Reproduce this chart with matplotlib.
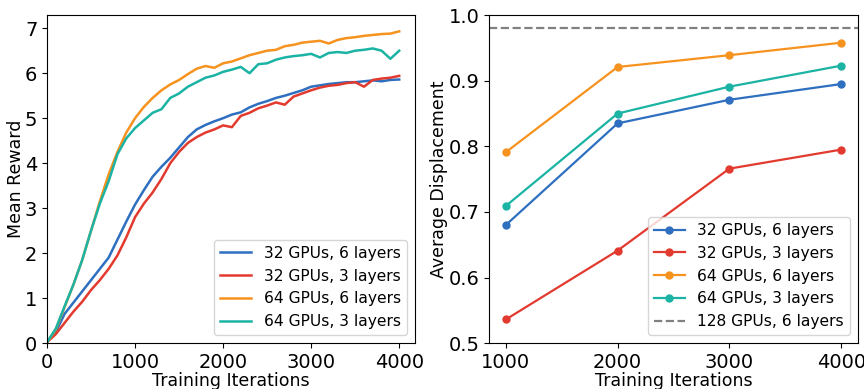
import matplotlib
matplotlib.use("Agg")
import matplotlib.pyplot as plt

# left panel: mean reward vs training iterations (read every 100 its)
iters = list(range(0, 4001, 100))
reward_32_6 = [0.02, 0.25, 0.65, 0.9, 1.15, 1.4, 1.65, 1.9, 2.3, 2.7,
               3.08, 3.4, 3.7, 3.92, 4.12, 4.35, 4.58, 4.75, 4.85, 4.93,
               5.0, 5.08, 5.13, 5.24, 5.32, 5.38, 5.45, 5.5, 5.56, 5.62,
               5.7, 5.73, 5.76, 5.78, 5.8, 5.8, 5.82, 5.84, 5.82, 5.85, 5.86]
reward_32_3 = [0.02, 0.2, 0.45, 0.7, 0.92, 1.18, 1.4, 1.65, 1.95, 2.35,
               2.8, 3.1, 3.35, 3.65, 4.0, 4.25, 4.45, 4.58, 4.68, 4.75,
               4.84, 4.8, 5.05, 5.12, 5.22, 5.28, 5.35, 5.3, 5.48, 5.55,
               5.62, 5.68, 5.72, 5.74, 5.78, 5.8, 5.7, 5.85, 5.88, 5.9, 5.94]
reward_64_6 = [0.02, 0.3, 0.8, 1.3, 1.85, 2.5, 3.15, 3.75, 4.25, 4.68,
               5.0, 5.25, 5.45, 5.62, 5.75, 5.85, 5.98, 6.1, 6.16, 6.12,
               6.22, 6.26, 6.33, 6.4, 6.45, 6.5, 6.52, 6.6, 6.63, 6.68,
               6.7, 6.72, 6.66, 6.74, 6.78, 6.8, 6.83, 6.85, 6.87, 6.88, 6.93]
reward_64_3 = [0.02, 0.32, 0.82, 1.3, 1.85, 2.5, 3.1, 3.6, 4.2, 4.55,
               4.78, 4.95, 5.12, 5.2, 5.45, 5.55, 5.7, 5.8, 5.9, 5.95,
               6.03, 6.08, 6.14, 6.0, 6.2, 6.22, 6.3, 6.35, 6.38, 6.4,
               6.43, 6.35, 6.45, 6.47, 6.45, 6.5, 6.52, 6.55, 6.5, 6.32, 6.5]

# right panel: average displacement at checkpoints
checkpoints = [1000, 2000, 3000, 4000]
disp_32_6 = [0.680, 0.835, 0.871, 0.895]
disp_32_3 = [0.536, 0.641, 0.766, 0.795]
disp_64_6 = [0.791, 0.921, 0.939, 0.958]
disp_64_3 = [0.709, 0.850, 0.891, 0.923]
disp_128_6 = 0.98

labels = ["32 GPUs, 6 layers", "32 GPUs, 3 layers",
          "64 GPUs, 6 layers", "64 GPUs, 3 layers"]
colors = ["#2e6fc0", "#e23a2e", "#f6921e", "#1bb3a3"]

plt.rcParams["xtick.labelsize"] = 14
plt.rcParams["ytick.labelsize"] = 14
plt.rcParams["axes.labelsize"] = 12.5

fig = plt.figure(figsize=(8.64, 3.89), dpi=100)
ax1 = fig.add_axes([0.0544, 0.118, 0.426, 0.843])
ax2 = fig.add_axes([0.566, 0.118, 0.427, 0.843])

for y, c, lab in zip([reward_32_6, reward_32_3, reward_64_6, reward_64_3], colors, labels):
    ax1.plot(iters, y, color=c, lw=1.8, label=lab)
ax1.set_xlim(0, 4180)
ax1.set_ylim(0, 7.29)
ax1.set_xlabel("Training Iterations", labelpad=0)
ax1.set_ylabel("Mean Reward", labelpad=0)
ax1.legend(loc="lower right", fontsize=11.2)

for y, c, lab in zip([disp_32_6, disp_32_3, disp_64_6, disp_64_3], colors, labels):
    ax2.plot(checkpoints, y, color=c, lw=1.6, marker="o", ms=5, label=lab)
ax2.axhline(disp_128_6, color="gray", ls="--", lw=1.6, label="128 GPUs, 6 layers")
ax2.set_xlim(850, 4150)
ax2.set_ylim(0.5, 1.0)
ax2.set_xticks(checkpoints)
ax2.set_xlabel("Training Iterations", labelpad=0)
ax2.set_ylabel("Average Displacement", labelpad=0)
ax2.legend(loc="lower right", fontsize=11.2)

fig.savefig("out.png", dpi=100)
